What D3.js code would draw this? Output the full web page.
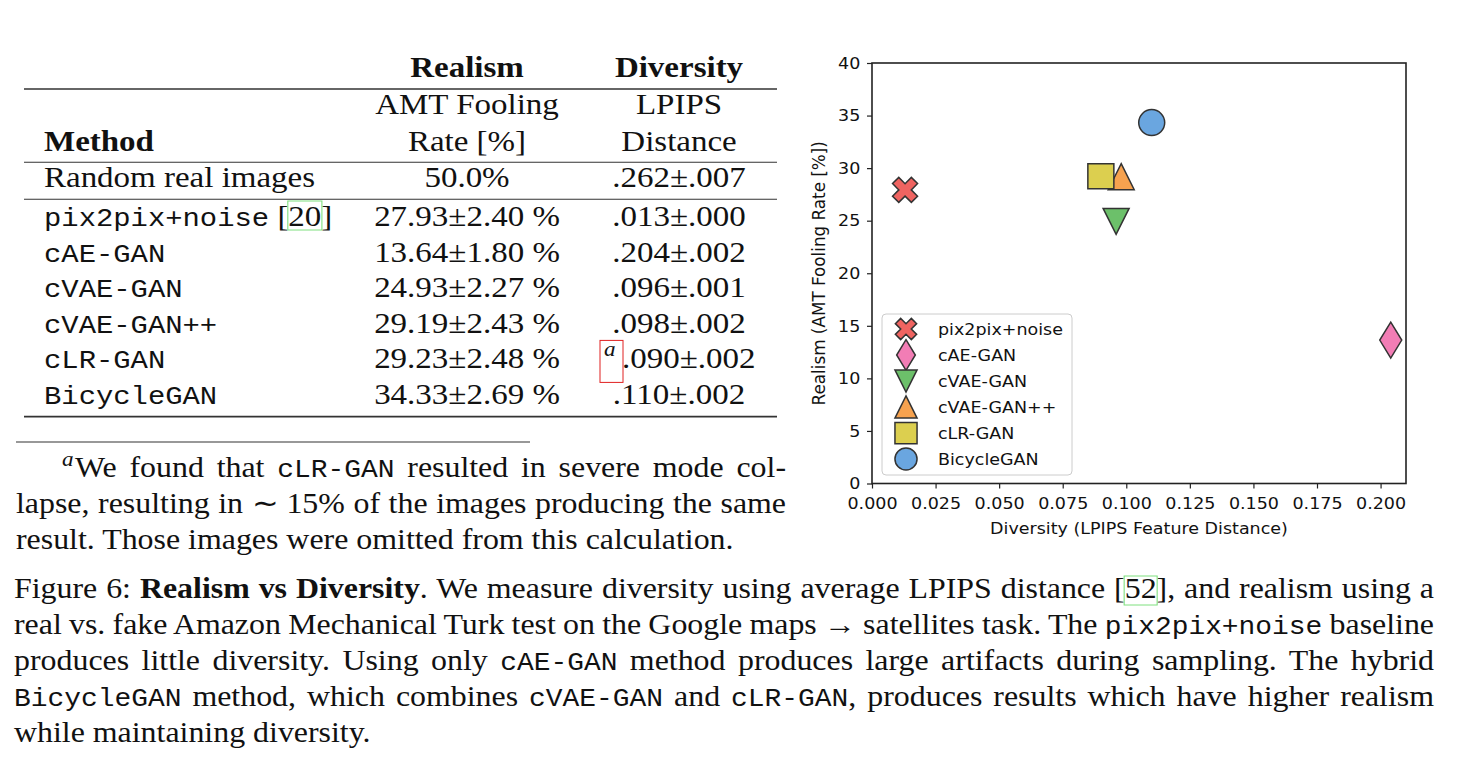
<!DOCTYPE html>
<html><head><meta charset="utf-8">
<script src="https://cdn.jsdelivr.net/npm/d3@7"></script>
<style>body{margin:0;background:#fff;} svg{display:block;background:#fff}</style>
</head><body>
<svg id="fig" width="1460" height="768"></svg>
<script>
// ---------------- data ----------------
const methods = ["pix2pix+noise", "cAE-GAN", "cVAE-GAN", "cVAE-GAN++", "cLR-GAN", "BicycleGAN"];
const realism = [27.93, 13.64, 24.93, 29.19, 29.23, 34.33];
const realismErr = [2.40, 1.80, 2.27, 2.43, 2.48, 2.69];
const diversity = [0.013, 0.204, 0.096, 0.098, 0.090, 0.110];
const diversityErr = [0.000, 0.002, 0.001, 0.002, 0.002, 0.002];
const markerColors = ["#ef6461", "#f27db5", "#6cc06a", "#f6a24f", "#dccf4f", "#6aa6e0"];
const markerShapes = ["X", "thin_diamond", "tri_down", "tri_up", "square", "circle"];
const xTicks = [0, 0.025, 0.05, 0.075, 0.1, 0.125, 0.15, 0.175, 0.2];
const yTicks = [0, 5, 10, 15, 20, 25, 30, 35, 40];
const xLabel = "Diversity (LPIPS Feature Distance)";
const yLabel = "Realism (AMT Fooling Rate [%])";
const groupHeaders = ["Realism", "Diversity"];
const subHeaders1 = ["AMT Fooling", "LPIPS"];
const subHeaders2 = ["Rate [%]", "Distance"];
const methodHeader = "Method";
const refRow = ["Random real images", "50.0%", ".262±.007"];
const citeRow0 = "[20]";
const footMark = "a";
const footnoteLines = [
  [["r", "We found that "], ["m", "cLR-GAN"], ["r", " resulted in severe mode col-"]],
  [["r", "lapse, resulting in ∼ 15% of the images producing the same"]],
  [["r", "result. Those images were omitted from this calculation."]]
];
const captionLines = [
  [["r", "Figure 6: "], ["b", "Realism vs Diversity"], ["r", ". We measure diversity using average LPIPS distance [52], and realism using a"]],
  [["r", "real vs. fake Amazon Mechanical Turk test on the Google maps → satellites task. The "], ["m", "pix2pix+noise"], ["r", " baseline"]],
  [["r", "produces little diversity. Using only "], ["m", "cAE-GAN"], ["r", " method produces large artifacts during sampling. The hybrid"]],
  [["m", "BicycleGAN"], ["r", " method, which combines "], ["m", "cVAE-GAN"], ["r", " and "], ["m", "cLR-GAN"], ["r", ", produces results which have higher realism"]],
  [["r", "while maintaining diversity."]]
];

// ---------------- helpers ----------------
const svg = d3.select("#fig");
const SX = 1.1;
const SERIF = "'Liberation Serif','Times New Roman',serif";
const MONO = "'Liberation Mono','DejaVu Sans Mono',monospace";
const SANS = "'DejaVu Sans','Liberation Sans',sans-serif";
const INK = "#111";

function styleSpan(sel, st, fs) {
  if (st === "m") sel.attr("font-family", MONO).attr("font-size", fs * 0.875);
  else sel.attr("font-family", SERIF).attr("font-size", fs);
  if (st === "b") sel.attr("font-weight", "bold");
  if (st === "i") sel.attr("font-style", "italic");
}

function richLine(x, y, segs, opts = {}) {
  const fs = opts.fs || 30, sx = opts.sx || SX;
  const g = svg.append("g").attr("transform", `translate(${x},${y}) scale(${sx},1)`);
  const t = g.append("text").attr("x", 0).attr("y", 0).attr("fill", INK)
    .attr("text-anchor", opts.anchor || "start");
  segs.forEach(([st, s]) => styleSpan(t.append("tspan").text(s), st, fs));
  if (opts.width) {
    const nat = t.node().getComputedTextLength();
    const full = segs.map(d => d[1]).join("");
    const nSp = (full.match(/ /g) || []).length;
    if (nSp) t.attr("word-spacing", (opts.width / sx - nat) / nSp);
  }
  return { g, t, full: segs.map(d => d[1]).join("") };
}

function boxChars(line, str, color, top, bot) {
  const i0 = line.full.indexOf(str);
  const n = line.t.node();
  const x0 = n.getStartPositionOfChar(i0).x;
  const x1 = n.getEndPositionOfChar(i0 + str.length - 1).x;
  line.g.append("rect").attr("x", x0 - 0.5).attr("y", top).attr("width", x1 - x0 + 1)
    .attr("height", bot - top).attr("fill", "none").attr("stroke", color).attr("stroke-width", 1);
}

// ---------------- table ----------------
const colX = [467, 679];
const tbl = svg.append("g");
function rule(y, w) {
  tbl.append("line").attr("x1", 24).attr("x2", 777).attr("y1", y).attr("y2", y)
    .attr("stroke", "#333").attr("stroke-width", w);
}
rule(89, 1.7); rule(162.3, 1.1); rule(199.3, 1.1); rule(416.7, 1.7);

groupHeaders.forEach((h, i) => richLine(colX[i], 77, [["b", h]], { anchor: "middle" }));
subHeaders1.forEach((h, i) => richLine(colX[i], 114, [["r", h]], { anchor: "middle" }));
subHeaders2.forEach((h, i) => richLine(colX[i], 151, [["r", h]], { anchor: "middle" }));
richLine(44, 151, [["b", methodHeader]]);
richLine(44, 187, [["r", refRow[0]]]);
richLine(colX[0], 187, [["r", refRow[1]]], { anchor: "middle" });
richLine(colX[1], 187, [["r", refRow[2]]], { anchor: "middle" });

const fmt3 = v => d3.format(".3f")(v).replace(/^0/, "");
const rowY = d3.scaleLinear().domain([0, 5]).range([226, 404]);
methods.forEach((m, i) => {
  const yy = rowY(i);
  const segs = [["m", m]];
  if (i === 0) segs.push(["r", " " + citeRow0]);
  const ln = richLine(44, yy, segs);
  if (i === 0) boxChars(ln, "20", "#7fe07f", -25, 4);
  richLine(colX[0], yy, [["r", `${realism[i].toFixed(2)}±${realismErr[i].toFixed(2)} %`]], { anchor: "middle" });
  const dv = `${fmt3(diversity[i])}±${fmt3(diversityErr[i])}`;
  if (m === "cLR-GAN") {
    richLine(604, yy - 12, [["i", footMark]], { fs: 21 });
    tbl.append("rect").attr("x", 600).attr("y", yy - 28).attr("width", 23).attr("height", 42)
      .attr("fill", "none").attr("stroke", "#e02020").attr("stroke-width", 1);
    richLine(622, yy, [["r", dv]]);
  } else {
    richLine(colX[1], yy, [["r", dv]], { anchor: "middle" });
  }
});

// ---------------- footnote ----------------
svg.append("line").attr("x1", 16).attr("x2", 530).attr("y1", 442).attr("y2", 442)
  .attr("stroke", "#333").attr("stroke-width", 1.1);
richLine(62, 466, [["i", footMark]], { fs: 21 });
richLine(75, 477, footnoteLines[0], { fs: 29, width: 786 - 75 });
richLine(16, 513, footnoteLines[1], { fs: 29, width: 786 - 16 });
richLine(16, 549, footnoteLines[2], { fs: 29 });

// ---------------- caption ----------------
captionLines.forEach((segs, i) => {
  const yy = 598 + 36 * i;
  const ln = richLine(14, yy, segs, { fs: 29, width: i < 4 ? 1420 : null });
  if (i === 0) boxChars(ln, "52", "#7fe07f", -22, 7);
});

// ---------------- scatter plot ----------------
const x = d3.scaleLinear().domain([0, 0.21]).range([872, 1406]);
const y = d3.scaleLinear().domain([0, 40]).range([483.5, 63]);
const PFS = 16.5, PSX = 1.06;
const plot = svg.append("g");

const xAxis = plot.append("g").attr("transform", `translate(0,${y(0)})`)
  .call(d3.axisBottom(x).tickValues(xTicks).tickFormat(d3.format(".3f")).tickSize(5).tickPadding(9));
const yAxis = plot.append("g").attr("transform", `translate(${x(0)},0)`)
  .call(d3.axisLeft(y).tickValues(yTicks).tickFormat(d3.format("d")).tickSize(5).tickPadding(6));
[xAxis, yAxis].forEach(a => {
  a.select(".domain").remove();
  a.selectAll(".tick line").attr("stroke", "#222").attr("stroke-width", 1.2);
  a.selectAll(".tick text").attr("font-family", SANS).attr("font-size", PFS).attr("fill", INK)
    .attr("transform", `scale(${PSX},1)`);
});

plot.append("rect").attr("x", x(0)).attr("y", y(40)).attr("width", x(0.21) - x(0))
  .attr("height", y(0) - y(40)).attr("fill", "none").attr("stroke", "#222").attr("stroke-width", 1.6);

plot.append("g").attr("transform", `translate(${(x(0) + x(0.21)) / 2},534) scale(${PSX},1)`)
  .append("text").attr("text-anchor", "middle").attr("font-family", SANS).attr("font-size", PFS)
  .attr("fill", INK).text(xLabel);
plot.append("text").attr("transform", `translate(825,${(y(0) + y(40)) / 2}) rotate(-90)`)
  .attr("text-anchor", "middle").attr("font-family", SANS).attr("font-size", 16.8)
  .attr("fill", INK).text(yLabel);

function markerPath(shape, k = 1) {
  const p = d3.path();
  const poly = pts => { pts.forEach(([a, b], j) => j ? p.lineTo(a * k, b * k) : p.moveTo(a * k, b * k)); p.closePath(); };
  if (shape === "X") {
    const L = 13.3, w = 4.4, r = Math.SQRT1_2;
    const pl = [[w, L], [w, w], [L, w], [L, -w], [w, -w], [w, -L], [-w, -L], [-w, -w], [-L, -w], [-L, w], [-w, w], [-w, L]];
    poly(pl.map(([a, b]) => [(a - b) * r, (a + b) * r]));
  } else if (shape === "thin_diamond") poly([[0, -18], [11, 0], [0, 18], [-11, 0]]);
  else if (shape === "tri_down") poly([[-13, -13], [13, -13], [0, 13]]);
  else if (shape === "tri_up") poly([[0, -13], [13, 13], [-13, 13]]);
  else if (shape === "square") poly([[-13, -12.5], [13, -12.5], [13, 12.5], [-13, 12.5]]);
  else if (shape === "circle") { p.moveTo(13 * k, 0); p.arc(0, 0, 13 * k, 0, 2 * Math.PI); p.closePath(); }
  return p.toString();
}

plot.append("g").selectAll("path").data(methods).join("path")
  .attr("transform", (d, i) => `translate(${x(diversity[i])},${y(realism[i])})`)
  .attr("d", (d, i) => markerPath(markerShapes[i]))
  .attr("fill", (d, i) => markerColors[i]).attr("stroke", "#333").attr("stroke-width", 1.5)
  .attr("stroke-linejoin", "miter");

// legend
const lg = plot.append("g");
lg.append("rect").attr("x", 882).attr("y", 314).attr("width", 190).attr("height", 161).attr("rx", 4)
  .attr("fill", "#fff").attr("fill-opacity", 0.8).attr("stroke", "#cccccc").attr("stroke-width", 1);
const ly = d3.scaleLinear().domain([0, 5]).range([329, 459]);
methods.forEach((m, i) => {
  lg.append("path").attr("transform", `translate(906,${ly(i)})`).attr("d", markerPath(markerShapes[i], 0.85))
    .attr("fill", markerColors[i]).attr("stroke", "#333").attr("stroke-width", 1.5);
  lg.append("g").attr("transform", `translate(938,${ly(i) + 6}) scale(${PSX},1)`)
    .append("text").attr("font-family", SANS).attr("font-size", PFS).attr("fill", INK).text(m);
});
</script>
</body></html>
